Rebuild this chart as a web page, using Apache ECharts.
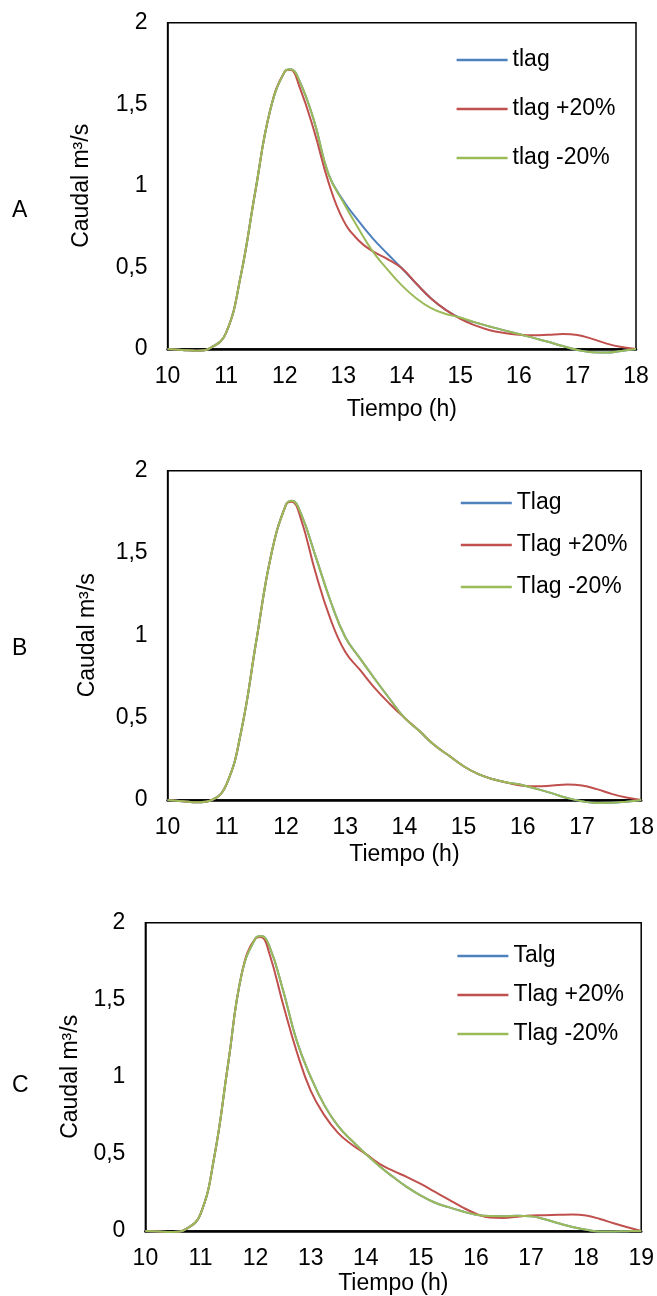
<!DOCTYPE html>
<html>
<head>
<meta charset="utf-8">
<script src="https://cdn.jsdelivr.net/npm/echarts@6/dist/echarts.min.js"></script>
<style>
  html, body { margin: 0; padding: 0; background: #fff; }
  #main { width: 657px; height: 1296px; }
</style>
</head>
<body>
<div id="main"></div>
<script>
var chartDom = document.getElementById('main');
var myChart = echarts.init(chartDom);

var blue = '#4F81BD';
var red = '#C0504D';
var green = '#9BBB59';

// horas (eje x)
var hoursAB = [10, 10.25, 10.5, 10.75, 11, 11.25, 11.5, 11.75, 12, 12.1, 12.25, 12.5, 12.75, 13, 13.25, 13.5, 13.75, 14,
  14.25, 14.5, 14.75, 15, 15.25, 15.5, 15.75, 16, 16.25, 16.5, 16.75, 17, 17.25, 17.5, 17.75, 18];
var hoursC = [10, 10.25, 10.5, 10.75, 11, 11.25, 11.5, 11.75, 12, 12.1, 12.25, 12.5, 12.75, 13, 13.25, 13.5, 13.75, 14,
  14.25, 14.5, 14.75, 15, 15.25, 15.5, 15.75, 16, 16.25, 16.5, 16.75, 17, 17.25, 17.5, 17.75, 18, 18.25, 18.5, 18.75, 19];

var yTicks = [0, 0.5, 1, 1.5, 2];

// A
var namesA = ['tlag', 'tlag +20%', 'tlag -20%'];
var tlagA = [0, -0.006, -0.01, 0.01, 0.1, 0.45, 0.97, 1.46, 1.70, 1.714, 1.645, 1.40, 1.07, 0.91, 0.79, 0.68, 0.585, 0.495,
  0.40, 0.31, 0.24, 0.19, 0.163, 0.138, 0.114, 0.092, 0.068, 0.044, 0.018, -0.006, -0.02, -0.022, -0.012, 0];
var tlagA_p20 = [0, -0.006, -0.01, 0.01, 0.1, 0.45, 0.97, 1.46, 1.70, 1.712, 1.61, 1.34, 1.02, 0.79, 0.67, 0.60, 0.553, 0.495,
  0.40, 0.31, 0.24, 0.185, 0.145, 0.115, 0.098, 0.088, 0.084, 0.087, 0.092, 0.086, 0.062, 0.033, 0.012, 0];
var tlagA_m20 = [0, -0.006, -0.01, 0.01, 0.1, 0.45, 0.97, 1.46, 1.70, 1.714, 1.645, 1.40, 1.07, 0.90, 0.745, 0.60, 0.49, 0.39,
  0.31, 0.25, 0.215, 0.193, 0.163, 0.138, 0.114, 0.092, 0.068, 0.044, 0.018, -0.006, -0.02, -0.022, -0.012, 0];

// B
var namesB = ['Tlag', 'Tlag +20%', 'Tlag -20%'];
var tlagB = [0, -0.007, -0.014, 0, 0.1, 0.43, 0.97, 1.49, 1.794, 1.818, 1.742, 1.48, 1.21, 0.99, 0.86, 0.735, 0.615, 0.50,
  0.42, 0.335, 0.27, 0.205, 0.157, 0.126, 0.105, 0.09, 0.066, 0.04, 0.012, -0.008, -0.018, -0.017, -0.01, 0];
var tlagB_p20 = [0, -0.007, -0.014, 0, 0.1, 0.43, 0.97, 1.49, 1.794, 1.812, 1.71, 1.38, 1.10, 0.90, 0.79, 0.68, 0.585, 0.50,
  0.42, 0.335, 0.27, 0.205, 0.157, 0.126, 0.104, 0.087, 0.083, 0.088, 0.094, 0.088, 0.066, 0.037, 0.015, 0];
var tlagB_m20 = [0, -0.007, -0.014, 0, 0.1, 0.43, 0.97, 1.49, 1.794, 1.818, 1.742, 1.48, 1.21, 0.99, 0.86, 0.735, 0.615, 0.50,
  0.42, 0.335, 0.27, 0.205, 0.157, 0.126, 0.105, 0.09, 0.066, 0.04, 0.012, -0.008, -0.018, -0.017, -0.01, 0];

// C
var namesC = ['Talg', 'Tlag +20%', 'Tlag -20%'];
var tlagC = [0, -0.004, -0.006, 0.015, 0.11, 0.48, 1.08, 1.67, 1.899, 1.913, 1.848, 1.56, 1.23, 1.0, 0.815, 0.68, 0.585, 0.50,
  0.42, 0.35, 0.285, 0.23, 0.185, 0.155, 0.128, 0.106, 0.097, 0.096, 0.099, 0.096, 0.076, 0.05, 0.026, 0.008, -0.003, -0.003, -0.001, 0];
var tlagC_p20 = [0, -0.004, -0.006, 0.015, 0.11, 0.48, 1.08, 1.67, 1.899, 1.908, 1.80, 1.47, 1.16, 0.91, 0.75, 0.635, 0.56, 0.50,
  0.435, 0.39, 0.35, 0.305, 0.255, 0.205, 0.155, 0.113, 0.087, 0.085, 0.093, 0.1, 0.102, 0.105, 0.107, 0.1, 0.078, 0.05, 0.024, 0];
var tlagC_m20 = [0, -0.004, -0.006, 0.015, 0.11, 0.48, 1.08, 1.67, 1.899, 1.913, 1.848, 1.56, 1.23, 1.0, 0.815, 0.68, 0.585, 0.50,
  0.42, 0.35, 0.285, 0.23, 0.185, 0.155, 0.128, 0.106, 0.097, 0.096, 0.099, 0.096, 0.076, 0.05, 0.026, 0.008, -0.003, -0.003, -0.001, 0];

var font = 'Liberation Sans, Arial, sans-serif';
var fs = 23;

function pairs(xs, ys) {
  var out = [];
  for (var i = 0; i < xs.length; i++) out.push([xs[i], ys[i]]);
  return out;
}

function makeSeries(name, color, idx, xs, ys) {
  return {
    name: name,
    type: 'line',
    xAxisIndex: idx,
    yAxisIndex: idx,
    data: pairs(xs, ys),
    smooth: 0.45,
    clip: false,
    symbol: 'none',
    lineStyle: { color: color, width: 2 },
    itemStyle: { color: color }
  };
}

function makeX(idx, max, nameGap) {
  return {
    type: 'value',
    gridIndex: idx,
    min: 10,
    max: max,
    interval: 1,
    name: 'Tiempo (h)',
    nameLocation: 'middle',
    nameGap: nameGap,
    nameTextStyle: { fontSize: fs, color: '#000', fontFamily: font },
    axisLine: { show: true, onZero: false, lineStyle: { color: '#000', width: 2.5 } },
    axisTick: { show: false },
    splitLine: { show: false },
    axisLabel: { fontSize: fs, color: '#000', fontFamily: font, margin: 16 }
  };
}

function makeY(idx, nameGap) {
  return {
    type: 'value',
    gridIndex: idx,
    min: 0,
    max: 2,
    interval: 0.5,
    name: 'Caudal m³/s',
    nameLocation: 'middle',
    nameGap: nameGap,
    nameTextStyle: { fontSize: fs, color: '#000', fontFamily: font },
    axisLine: { show: true, lineStyle: { color: '#000', width: 1.5 } },
    axisTick: { show: false },
    splitLine: { show: false },
    axisLabel: {
      fontSize: fs, color: '#000', fontFamily: font, margin: 20,
      formatter: function (v) { return yTicks.indexOf(v) >= 0 ? String(v).replace('.', ',') : ''; }
    }
  };
}

function makeLegend(names, left, top, gap) {
  return {
    data: names,
    orient: 'vertical',
    left: left,
    top: top,
    icon: 'rect',
    itemWidth: 51,
    itemHeight: 2.5,
    itemGap: gap,
    textStyle: { fontSize: fs, color: '#000', fontFamily: font, lineHeight: 24 },
    selectedMode: false
  };
}

function letter(t, y) {
  return {
    type: 'text',
    left: 12,
    top: y - 13,
    style: { text: t, fontSize: 23, fill: '#000', fontFamily: font }
  };
}

var option = {
  backgroundColor: '#fff',
  animation: false,
  grid: [
    { left: 167.6, top: 22.7, width: 468.4, height: 326.3, show: true, borderColor: '#000', borderWidth: 1.5 },
    { left: 167.6, top: 470.7, width: 474.2, height: 329.3, show: true, borderColor: '#000', borderWidth: 1.5 },
    { left: 145.4, top: 922.7, width: 498.9, height: 313, show: true, borderColor: '#000', borderWidth: 1.5 }
  ],
  xAxis: [makeX(0, 18, 49), makeX(1, 18, 43), makeX(2, 19, 41)],
  yAxis: [makeY(0, 74), makeY(1, 68), makeY(2, 56)],
  legend: [
    makeLegend(namesA, 451.6, 43, 25),
    makeLegend(namesB, 455.8, 486, 18),
    makeLegend(namesC, 452.4, 939, 15)
  ],
  graphic: [letter('A', 212), letter('B', 650), letter('C', 1087)],
  series: [
    makeSeries(namesA[0], blue, 0, hoursAB, tlagA),
    makeSeries(namesA[1], red, 0, hoursAB, tlagA_p20),
    makeSeries(namesA[2], green, 0, hoursAB, tlagA_m20),
    makeSeries(namesB[0], blue, 1, hoursAB, tlagB),
    makeSeries(namesB[1], red, 1, hoursAB, tlagB_p20),
    makeSeries(namesB[2], green, 1, hoursAB, tlagB_m20),
    makeSeries(namesC[0], blue, 2, hoursC, tlagC),
    makeSeries(namesC[1], red, 2, hoursC, tlagC_p20),
    makeSeries(namesC[2], green, 2, hoursC, tlagC_m20)
  ]
};

myChart.setOption(option);
</script>
</body>
</html>
